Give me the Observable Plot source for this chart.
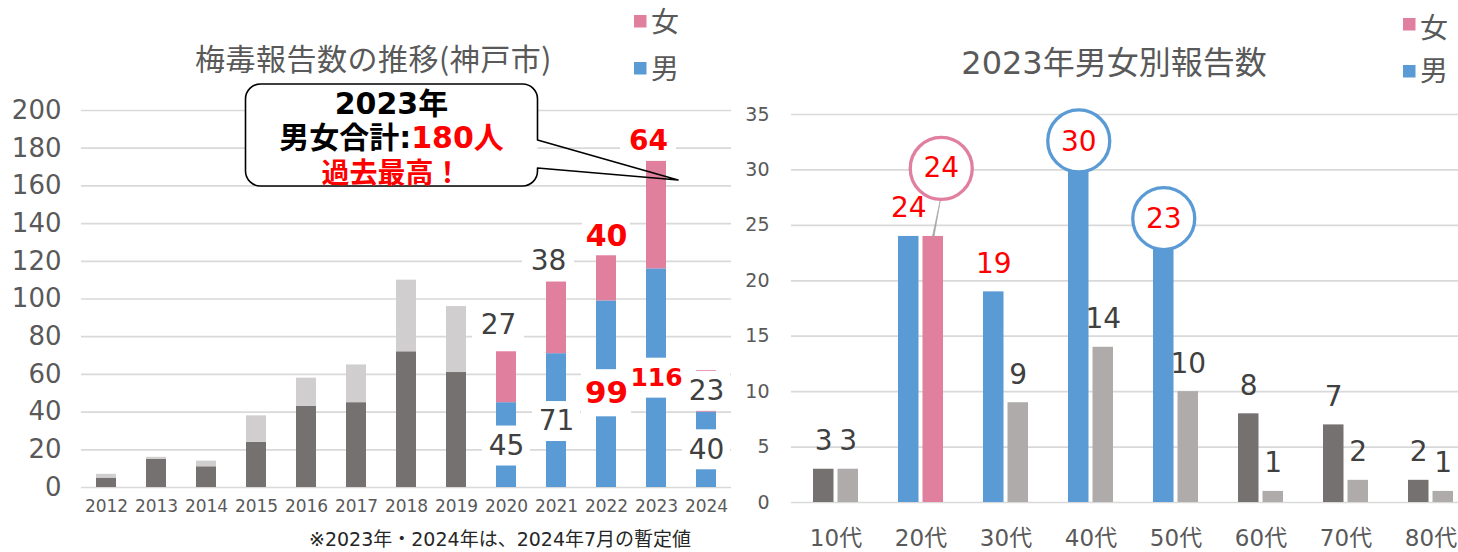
<!DOCTYPE html>
<html><head><meta charset="utf-8">
<script src="https://cdn.jsdelivr.net/npm/d3@7"></script>
<script src="https://cdn.jsdelivr.net/npm/@observablehq/plot@0.6"></script>
<style>
html,body{margin:0;padding:0;background:#fff;}
#wrap{position:relative;width:1458px;height:552px;overflow:hidden;}
#left{position:absolute;left:0;top:0;width:735px;height:552px;}
#right{position:absolute;left:735px;top:0;width:723px;height:552px;}
#overlay{position:absolute;left:0;top:0;}
</style></head><body>
<div id="wrap"><div id="left"></div><div id="right"></div><svg id="overlay" width="1458" height="552"></svg></div>
<script>
// ---------- data: left chart (梅毒報告数の推移) ----------
const years = ["2012","2013","2014","2015","2016","2017","2018","2019","2020","2021","2022","2023","2024"];
const maleByYear   = [5, 15, 11, 24, 43, 45, 72, 61, 45, 71, 99, 116, 40];
const femaleByYear = [2, 1, 3, 14, 15, 20, 38, 35, 27, 38, 24, 57, 22];
const labelYears = ["2020","2021","2022","2023","2024"];
const maleLabelText   = ["45","71","99","116","40"];
const maleLabelY      = [22, 35, 50, 58, 20];
const femaleLabelText = ["27","38","40","64","23"];
const femaleLabelY    = [86, 120, 133, 184, 51];
const colorSplitYear = "2020";
const redLabelYears = ["2022","2023"];

// ---------- data: right chart (2023年男女別報告数) ----------
const ages = ["10代","20代","30代","40代","50代","60代","70代","80代"];
const maleByAge   = [3, 24, 19, 30, 23, 8, 7, 2];
const femaleByAge = [3, 24, 9, 14, 10, 1, 2, 1];
const maleHighlight = ["20代","30代","40代","50代"];
const femaleHighlight = ["20代"];
const maleCircled = ["40代","50代"];
const femaleCircled = ["20代"];

// ---------- styles ----------
const FONT = "'DejaVu Sans','Noto Sans CJK JP',sans-serif";
const CJK = "'Noto Sans CJK JP','DejaVu Sans',sans-serif";
const C = {dark:"#767171", light:"#d0cece", light2:"#afabab", blue:"#5b9bd5", pink:"#e17f9f",
           grid:"#d9d9d9", axis:"#595959", label:"#404040", red:"#ff0000"};

// ---------- left chart ----------
const leftRows = [];
years.forEach((y, i) => {
  leftRows.push({year: y, sex: "男", value: maleByYear[i]});
  leftRows.push({year: y, sex: "女", value: femaleByYear[i]});
});
const leftFill = d => d.year >= colorSplitYear ? (d.sex === "男" ? C.blue : C.pink) : (d.sex === "男" ? C.dark : C.light);

const leftLabels = [];
labelYears.forEach((y, i) => {
  leftLabels.push({year: y, sex: "男", text: maleLabelText[i], y: maleLabelY[i]});
  leftLabels.push({year: y, sex: "女", text: femaleLabelText[i], y: femaleLabelY[i]});
});
const isRed = d => redLabelYears.includes(d.year);

function leftLabel(filter, o) {
  const data = leftLabels.filter(filter);
  const hh = o.halfH ?? 10.6;
  return [
    Plot.barY(data, {x: "year", y1: d => d.y - hh, y2: d => d.y + hh, fill: "white",
      insetLeft: -o.halfW, insetRight: -o.halfW, dx: o.dx ?? 0}),
    Plot.text(data, {x: "year", y: "y", text: "text", fill: o.fill, fontSize: o.fontSize,
      fontWeight: o.fontWeight ?? "normal", dx: o.dx ?? 0, fontFamily: FONT})
  ];
}

const leftPlot = Plot.plot({
  width: 735, height: 552, marginLeft: 81, marginRight: 4, marginTop: 110, marginBottom: 65,
  style: {fontFamily: FONT, background: "transparent", overflow: "visible"},
  x: {type: "band", domain: years, paddingInner: 0.6, paddingOuter: 0.3},
  y: {domain: [0, 200]},
  color: {type: "identity"},
  marks: [
    Plot.gridY(d3.range(0, 201, 20), {stroke: C.grid, strokeOpacity: 1, strokeWidth: 1.7}),
    Plot.barY(leftRows, {x: "year", y: "value", fill: leftFill}),
    ...leftLabel(d => !isRed(d) && (d.sex === "男" || d.year === "2024"), {fontSize: 28, fill: C.label, halfW: 14}),
    ...leftLabel(d => !isRed(d) && d.sex === "女" && d.year !== "2024", {fontSize: 28, fill: C.label, halfW: 16, dx: -8}),
    ...leftLabel(d => d.year === "2022" && d.sex === "男", {fontSize: 31, fontWeight: "bold", fill: C.red, halfW: 15, halfH: 12.5}),
    ...leftLabel(d => d.year === "2023" && d.sex === "男", {fontSize: 25, fontWeight: "bold", fill: C.red, halfW: 17}),
    ...leftLabel(d => d.year === "2022" && d.sex === "女", {fontSize: 30, fontWeight: "bold", fill: C.red, halfW: 14, halfH: 10}),
    ...leftLabel(d => d.year === "2023" && d.sex === "女", {fontSize: 28, fontWeight: "bold", fill: C.red, halfW: 18, dx: -8}),
    Plot.axisY({ticks: d3.range(0, 201, 20), tickSize: 0, tickPadding: 20, fontSize: 26, fill: C.axis, label: null}),
    Plot.axisX({tickSize: 0, tickPadding: 12, fontSize: 17, fill: C.axis, label: null})
  ]
});
document.getElementById("left").append(leftPlot);

// ---------- right chart ----------
const maleRows = ages.map((a, i) => ({age: a, value: maleByAge[i], hl: maleHighlight.includes(a), circ: maleCircled.includes(a)}));
const femaleRows = ages.map((a, i) => ({age: a, value: femaleByAge[i], hl: femaleHighlight.includes(a), circ: femaleCircled.includes(a)}));
const OFF = 12.25;

const rightPlot = Plot.plot({
  width: 723, height: 552, marginLeft: 56, marginRight: 0, marginTop: 114, marginBottom: 50,
  style: {fontFamily: FONT, background: "transparent", overflow: "visible"},
  x: {type: "band", domain: ages, range: [56, 739.5], paddingInner: 0.473, paddingOuter: 0.24},
  y: {domain: [0, 35]},
  color: {type: "identity"},
  marks: [
    Plot.gridY(d3.range(0, 36, 5), {stroke: C.grid, strokeOpacity: 1, strokeWidth: 1.7}),
    Plot.barY(maleRows, {x: "age", y: "value", fill: d => d.hl ? C.blue : C.dark, insetRight: 24.5}),
    Plot.barY(femaleRows, {x: "age", y: "value", fill: d => d.hl ? C.pink : C.light2, insetLeft: 24.5}),
    Plot.vector(femaleRows.filter(d => d.circ), {x: "age", y: "value", dx: OFF, length: 38, rotate: 11,
      anchor: "start", shape: "spike", r: 0.8, fill: "#a6a6a6", stroke: "#a6a6a6", strokeWidth: 0.6}),
    Plot.dot(maleRows.filter(d => d.circ), {x: "age", y: "value", dx: -OFF, dy: -29, r: 31,
      fill: "white", stroke: C.blue, strokeWidth: 3.3}),
    Plot.dot(femaleRows.filter(d => d.circ), {x: "age", y: "value", dx: OFF + 8, dy: -68, r: 31,
      fill: "white", stroke: C.pink, strokeWidth: 3.3}),
    Plot.text(maleRows, {x: "age", y: "value", text: d => String(d.value), dx: -OFF, dy: -28,
      fill: d => d.hl ? C.red : C.label, fontSize: 28}),
    Plot.text(femaleRows.filter(d => !d.circ), {x: "age", y: "value", text: d => String(d.value), dx: OFF, dy: -28,
      fill: d => d.hl ? C.red : C.label, fontSize: 28}),
    Plot.text(femaleRows.filter(d => d.circ), {x: "age", y: "value", text: d => String(d.value), dx: OFF + 8, dy: -68,
      fill: C.red, fontSize: 28}),
    Plot.axisY({ticks: d3.range(0, 36, 5), tickSize: 0, tickPadding: 22, fontSize: 19, fill: C.axis, label: null}),
    Plot.axisX({tickSize: 0, tickPadding: 27, fontSize: 23, fill: C.axis, label: null})
  ]
});
document.getElementById("right").append(rightPlot);

// ---------- overlay: titles, legends, callout, note ----------
const ov = d3.select("#overlay");
function txt(x, y, s, o = {}) {
  const t = ov.append("text").attr("x", x).attr("y", y).text(s)
    .attr("font-family", o.family || FONT).attr("font-size", o.size || 20)
    .attr("font-weight", o.weight || "normal").attr("fill", o.fill || C.axis)
    .attr("text-anchor", o.anchor || "start");
  if (o.spacing) t.attr("letter-spacing", o.spacing);
  return t;
}
txt(373.5, 70, "梅毒報告数の推移(神戸市)", {family: CJK, size: 30, anchor: "middle", spacing: 0.5});
txt(1114, 74, "2023年男女別報告数", {size: 32, anchor: "middle"});

function legend(x, yTop, color, label, base) {
  ov.append("rect").attr("x", x).attr("y", yTop).attr("width", 12.5).attr("height", 12.5).attr("fill", color);
  txt(x + 17, base, label, {family: CJK, size: 28});
}
legend(634, 15, C.pink, "女", 32);
legend(634, 62, C.blue, "男", 79);
legend(1403, 18, C.pink, "女", 38);
legend(1403, 65, C.blue, "男", 81);

// callout
const bx0 = 245.5, by0 = 84, bx1 = 537.5, by1 = 186, rr = 15;
ov.append("rect").attr("x", bx0).attr("y", by0).attr("width", bx1 - bx0).attr("height", by1 - by0)
  .attr("rx", rr).attr("fill", "white");
ov.append("path").attr("fill", "none").attr("stroke", "#000").attr("stroke-width", 1.6)
  .attr("stroke-linejoin", "round")
  .attr("d", `M${bx1},140 L678,180 L${bx1},168 L${bx1},${by1 - rr} A${rr},${rr} 0 0 1 ${bx1 - rr},${by1}
   L${bx0 + rr},${by1} A${rr},${rr} 0 0 1 ${bx0},${by1 - rr} L${bx0},${by0 + rr} A${rr},${rr} 0 0 1 ${bx0 + rr},${by0}
   L${bx1 - rr},${by0} A${rr},${rr} 0 0 1 ${bx1},${by0 + rr} Z`);
const cx = (bx0 + bx1) / 2;
txt(cx, 114, "2023年", {size: 30, weight: "bold", fill: "#000", anchor: "middle"});
const l2 = txt(cx, 148, "", {size: 30, weight: "bold", fill: "#000", anchor: "middle"});
l2.append("tspan").text("男女合計:").attr("fill", "#000");
l2.append("tspan").text("180人").attr("fill", C.red);
txt(cx, 183, "過去最高！", {family: CJK, size: 28, weight: "bold", fill: C.red, anchor: "middle"});

txt(309, 546, "※2023年・2024年は、2024年7月の暫定値", {size: 19, fill: "#262626"});
</script>
</body></html>
